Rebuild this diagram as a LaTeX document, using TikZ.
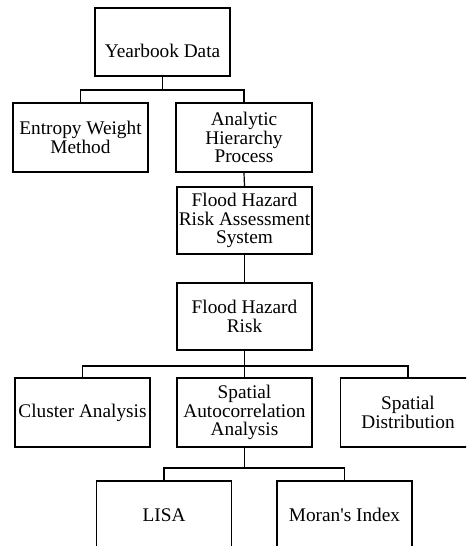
\documentclass[tikz,border=0pt]{standalone}
\usepackage{fontspec}
\setmainfont{Liberation Serif}
\newfontfamily\tnr{Liberation Serif}
\begin{document}
\begin{tikzpicture}[x=1pt,y=-1pt,
  box/.style={draw=black,line width=1.8pt,rectangle,minimum width=135pt,minimum height=68pt,
    inner sep=0pt,align=center,font=\tnr\fontsize{19.3}{18.8}\selectfont},
  conn/.style={draw=black,line width=1.2pt}]
\useasboundingbox (0,0) rectangle (466,546);
\clip (0,0) rectangle (466,546);
\node[box] (yb) at (162.5,42) {\raisebox{-9pt}[\height][\depth]{Yearbook Data}};
\node[box,minimum height=69pt] (ew) at (80.5,137.5) {Entropy Weight\\Method};
\node[box,minimum height=69pt,minimum width=136pt] (ahp) at (244,137.5) {Analytic\\Hierarchy\\Process};
\node[box,minimum height=67pt] (fhras) at (244.5,220.5) {Flood Hazard\\Risk Assessment\\System};
\node[box,minimum height=67pt] (fhr) at (244.5,316.5) {Flood Hazard\\Risk};
\node[box,minimum height=69pt] (cl) at (82.5,412.5) {Cluster Analysis};
\node[box,minimum height=69pt] (saa) at (244.5,412.5) {Spatial\\Autocorrelation\\Analysis};
\node[box,minimum height=69pt] (sd) at (408,412.5) {Spatial\\Distribution};
\node[box] (lisa) at (164,515) {LISA};
\node[box] (moran) at (344.5,515) {Moran\textquotesingle s Index};
% connectors
\draw[conn] (yb.south) -- ++(0,13) coordinate (j1);
\draw[conn] (ew.north) |- (j1) -| (ahp.north);
\draw[conn] (ahp.south) -- (fhras.north);
\draw[conn] (fhras.south) -- (fhr.north);
\draw[conn] (fhr.south) -- ++(0,15) coordinate (j2);
\draw[conn] (cl.north) |- (j2) -| (sd.north);
\draw[conn] (j2) -- (saa.north);
\draw[conn] (saa.south) -- ++(0,20) coordinate (j3);
\draw[conn] (lisa.north) |- (j3) -| (moran.north);
\end{tikzpicture}
\end{document}
